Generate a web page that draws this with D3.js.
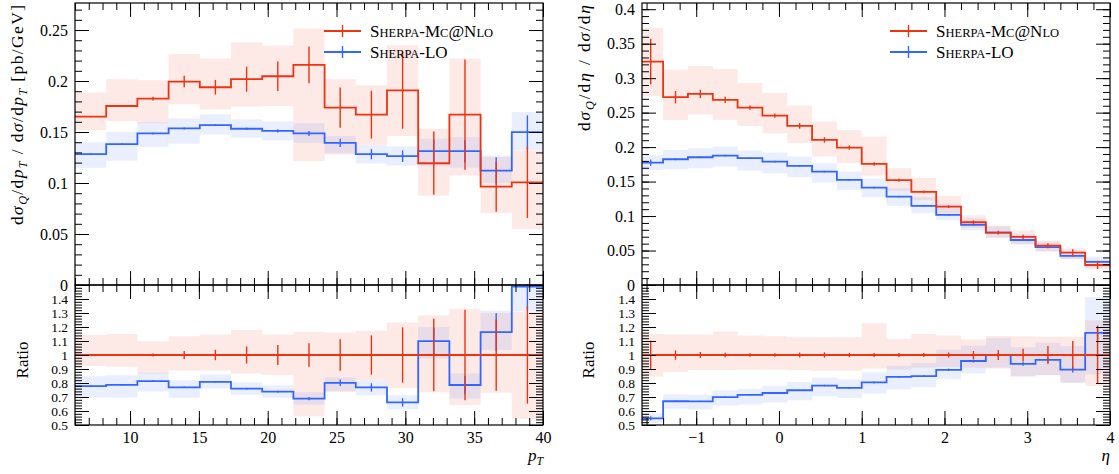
<!DOCTYPE html>
<html>
<head>
<meta charset="utf-8">
<script src="https://cdn.jsdelivr.net/npm/d3@7"></script>
<style>
  body { margin: 0; background: #fff; }
  svg { display: block; }
  text { font-family: "Liberation Serif", serif; }
</style>
</head>
<body>
<svg width="1119" height="474"></svg>
<script>
// ---- pT panel data (bins of 34/15 GeV from 6 to 40) ----
var ptEdges = [6, 8.267, 10.533, 12.8, 15.067, 17.333, 19.6, 21.867, 24.133, 26.4, 28.667, 30.933, 33.2, 35.467, 37.733, 40];
var ptNlo = [0.165, 0.1755, 0.1827, 0.1995, 0.1939, 0.2018, 0.2047, 0.2159, 0.1739, 0.167, 0.1909, 0.1194, 0.167, 0.0965, 0.1007];
var ptNloErr = [0.0005, 0.001, 0.0018, 0.0057, 0.0072, 0.0123, 0.0145, 0.018, 0.0197, 0.0234, 0.0377, 0.031, 0.054, 0.0246, 0.035];
var ptNloHi = [0.1887, 0.2018, 0.2008, 0.2264, 0.2221, 0.2379, 0.2346, 0.2516, 0.2018, 0.1959, 0.2352, 0.1532, 0.2221, 0.1255, 0.1319];
var ptNloLo = [0.1519, 0.1607, 0.1585, 0.1772, 0.1722, 0.1749, 0.1755, 0.1214, 0.128, 0.1371, 0.146, 0.0876, 0.1073, 0.0705, 0.0548];
var ptLo = [0.1283, 0.1381, 0.1486, 0.1535, 0.1568, 0.1532, 0.1511, 0.1486, 0.1394, 0.1283, 0.1263, 0.1312, 0.1312, 0.1122, 0.1499];
var ptLoErr = [0.0008, 0.0008, 0.001, 0.001, 0.001, 0.0012, 0.0015, 0.0025, 0.004, 0.005, 0.0057, 0.0115, 0.011, 0.013, 0.0164];
var ptLoHi = [0.14, 0.15, 0.1595, 0.1634, 0.1673, 0.1624, 0.1604, 0.1586, 0.146, 0.137, 0.136, 0.1434, 0.145, 0.127, 0.1696];
var ptLoLo = [0.1148, 0.122, 0.135, 0.1385, 0.1476, 0.1444, 0.142, 0.1395, 0.129, 0.119, 0.117, 0.1165, 0.115, 0.1, 0.1322];

// ---- eta panel data (bins of 0.3 from -1.7 to 4) ----
var etaEdges = [-1.7, -1.4, -1.1, -0.8, -0.5, -0.2, 0.1, 0.4, 0.7, 1.0, 1.3, 1.6, 1.9, 2.2, 2.5, 2.8, 3.1, 3.4, 3.7, 4.0];
var etaNlo = [0.324, 0.2724, 0.2772, 0.2685, 0.2573, 0.2457, 0.2308, 0.2104, 0.1993, 0.1756, 0.152, 0.135, 0.1136, 0.091, 0.0759, 0.0697, 0.057, 0.047, 0.029];
var etaNloErr = [0.033, 0.009, 0.006, 0.0045, 0.003, 0.003, 0.004, 0.004, 0.003, 0.0025, 0.0022, 0.002, 0.002, 0.0026, 0.0027, 0.0031, 0.0037, 0.0047, 0.0058];
var etaNloHi = [0.3726, 0.3122, 0.3177, 0.3133, 0.2931, 0.2786, 0.2601, 0.2371, 0.2246, 0.2153, 0.1695, 0.1553, 0.1294, 0.1011, 0.0862, 0.0790, 0.0644, 0.0531, 0.0362];
var etaNloLo = [0.2738, 0.2392, 0.2473, 0.2395, 0.2305, 0.2201, 0.2059, 0.1866, 0.1768, 0.1586, 0.1362, 0.1229, 0.1039, 0.0828, 0.0685, 0.0593, 0.0488, 0.0378, 0.0226];
var etaLo = [0.1775, 0.1824, 0.1853, 0.1877, 0.1839, 0.179, 0.1727, 0.1644, 0.1524, 0.1412, 0.1282, 0.1147, 0.1016, 0.0871, 0.0759, 0.0653, 0.0550, 0.0421, 0.0336];
var etaLoErr = [0.0045, 0.0015, 0.0012, 0.0012, 0.0012, 0.0012, 0.0012, 0.0012, 0.0012, 0.0012, 0.001, 0.001, 0.001, 0.001, 0.001, 0.001, 0.001, 0.001, 0.0015];
var etaLoHi = [0.1887, 0.1959, 0.1984, 0.2007, 0.1949, 0.192, 0.1862, 0.1766, 0.1644, 0.1538, 0.1403, 0.1273, 0.118, 0.097, 0.085, 0.0736, 0.062, 0.05, 0.041];
var etaLoLo = [0.1669, 0.1679, 0.1694, 0.1717, 0.1659, 0.1621, 0.1563, 0.1485, 0.1379, 0.1273, 0.1147, 0.1041, 0.094, 0.079, 0.069, 0.0589, 0.0488, 0.0376, 0.025];

// ---- tick values ----
var ptMainTicks = [0, 0.05, 0.1, 0.15, 0.2, 0.25];
var etaMainTicks = [0, 0.05, 0.1, 0.15, 0.2, 0.25, 0.3, 0.35, 0.4];
var ratioTicks = [0.5, 0.6, 0.7, 0.8, 0.9, 1, 1.1, 1.2, 1.3, 1.4];
var ptXTicks = [10, 15, 20, 25, 30, 35, 40];
var etaXTicks = [-1, 0, 1, 2, 3, 4];

var RED = '#ee3311', BLUE = '#3366ff';
var TOP = 3, MID = 285, BOT = 425;
var svg = d3.select('svg');
var defs = svg.append('defs');

function styleAxis(size) {
  return function (g) {
    g.select('.domain').remove();
    g.attr('font-family', '"Liberation Serif", serif').attr('font-size', size || 16);
    g.selectAll('line').attr('stroke', '#000').attr('stroke-width', 1);
    g.selectAll('text').attr('fill', '#000');
  };
}

// text with simple markup: [string, kind] kind: '' normal, 'i' italic, 's' italic subscript
function richText(t, parts, size) {
  var shifted = false;
  parts.forEach(function (p) {
    var ts = t.append('tspan').text(p[0]);
    if (p[1] === 'i') ts.attr('font-style', 'italic');
    if (p[1] === 's') {
      ts.attr('font-style', 'italic').attr('font-size', size * 0.7).attr('dy', 4);
      shifted = true;
    } else if (shifted) {
      ts.attr('dy', -4);
      shifted = false;
    }
  });
}

function smallCaps(t, parts, big, small) {
  parts.forEach(function (p) {
    t.append('tspan').text(p[0]).attr('font-size', p[1] ? small : big);
  });
}

function drawPanel(p) {
  var x = d3.scaleLinear().domain(p.xDomain).range([p.x0, p.x1]);
  var y = d3.scaleLinear().domain([0, p.yMax]).range([MID, TOP]);
  var yr = d3.scaleLinear().domain([0.5, 1.5]).range([BOT, MID]);
  var W = p.x1 - p.x0;

  defs.append('clipPath').attr('id', p.id + 'm')
    .append('rect').attr('x', p.x0).attr('y', TOP).attr('width', W).attr('height', MID - TOP);
  defs.append('clipPath').attr('id', p.id + 'r')
    .append('rect').attr('x', p.x0).attr('y', MID).attr('width', W).attr('height', BOT - MID);

  var bins = p.nlo.map(function (v, i) {
    return { i: i, lo: p.edges[i], hi: p.edges[i + 1], mid: (p.edges[i] + p.edges[i + 1]) / 2 };
  });

  var ref = p.nlo;
  var mainSeries = [
    { c: RED, v: p.nlo, e: p.nloErr, lo: p.nloLo, hi: p.nloHi },
    { c: BLUE, v: p.lo, e: p.loErr, lo: p.loLo, hi: p.loHi }
  ];
  var ratioSeries = mainSeries.map(function (s) {
    return {
      c: s.c,
      v: s.v.map(function (d, i) { return d / ref[i]; }),
      e: s.e.map(function (d, i) { return d / ref[i]; }),
      lo: s.lo.map(function (d, i) { return d / ref[i]; }),
      hi: s.hi.map(function (d, i) { return d / ref[i]; })
    };
  });

  function drawData(series, ys, clip) {
    var g = svg.append('g').attr('clip-path', 'url(#' + clip + ')');
    series.forEach(function (s) {
      g.append('g').selectAll('rect').data(bins).join('rect')
        .attr('x', function (d) { return x(d.lo); })
        .attr('width', function (d) { return x(d.hi) - x(d.lo); })
        .attr('y', function (d) { return ys(s.hi[d.i]); })
        .attr('height', function (d) { return ys(s.lo[d.i]) - ys(s.hi[d.i]); })
        .attr('fill', s.c).attr('fill-opacity', 0.1);
    });
    var line = d3.line().x(function (d) { return x(d[0]); }).y(function (d) { return ys(d[1]); });
    series.slice().reverse().forEach(function (s) {
      var pts = [];
      bins.forEach(function (d) { pts.push([d.lo, s.v[d.i]], [d.hi, s.v[d.i]]); });
      g.append('path').attr('d', line(pts)).attr('fill', 'none')
        .attr('stroke', s.c).attr('stroke-width', 1.8);
      g.append('g').selectAll('line').data(bins).join('line')
        .attr('x1', function (d) { return x(d.mid); })
        .attr('x2', function (d) { return x(d.mid); })
        .attr('y1', function (d) { return ys(s.v[d.i] - s.e[d.i]); })
        .attr('y2', function (d) { return ys(s.v[d.i] + s.e[d.i]); })
        .attr('stroke', s.c).attr('stroke-width', 1.4);
    });
  }

  drawData(mainSeries, y, p.id + 'm');
  drawData(ratioSeries, yr, p.id + 'r');

  // frames
  [[TOP, MID], [MID, BOT]].forEach(function (r) {
    svg.append('rect').attr('x', p.x0).attr('y', r[0]).attr('width', W).attr('height', r[1] - r[0])
      .attr('fill', 'none').attr('stroke', '#000').attr('stroke-width', 1.2);
  });

  var fmt = d3.format('~g');
  // y axes main
  svg.append('g').attr('transform', 'translate(' + p.x0 + ',0)')
    .call(d3.axisLeft(y).tickValues(p.yTicks).tickSize(-14).tickPadding(7).tickFormat(fmt)).call(styleAxis(16));
  svg.append('g').attr('transform', 'translate(' + p.x0 + ',0)')
    .call(d3.axisLeft(y).tickValues(p.yMinor).tickSize(-7).tickFormat('')).call(styleAxis());
  svg.append('g').attr('transform', 'translate(' + p.x1 + ',0)')
    .call(d3.axisRight(y).tickValues(p.yTicks).tickSize(-14).tickFormat('')).call(styleAxis());
  svg.append('g').attr('transform', 'translate(' + p.x1 + ',0)')
    .call(d3.axisRight(y).tickValues(p.yMinor).tickSize(-7).tickFormat('')).call(styleAxis());
  // y axes ratio
  var rMinor = d3.range(0.5, 1.5, 0.02);
  svg.append('g').attr('transform', 'translate(' + p.x0 + ',0)')
    .call(d3.axisLeft(yr).tickValues(ratioTicks).tickSize(-14).tickPadding(7).tickFormat(fmt)).call(styleAxis(13.5));
  svg.append('g').attr('transform', 'translate(' + p.x0 + ',0)')
    .call(d3.axisLeft(yr).tickValues(rMinor).tickSize(-7).tickFormat('')).call(styleAxis());
  svg.append('g').attr('transform', 'translate(' + p.x1 + ',0)')
    .call(d3.axisRight(yr).tickValues(ratioTicks).tickSize(-14).tickFormat('')).call(styleAxis());
  svg.append('g').attr('transform', 'translate(' + p.x1 + ',0)')
    .call(d3.axisRight(yr).tickValues(rMinor).tickSize(-7).tickFormat('')).call(styleAxis());

  // x axes: top of main, bottom of main, top of ratio, bottom of ratio
  [[TOP, 'top'], [MID, 'bottom'], [MID, 'top'], [BOT, 'bottom']].forEach(function (a, k) {
    var mk = a[1] === 'top' ? d3.axisTop : d3.axisBottom;
    var labelled = k === 3;
    svg.append('g').attr('transform', 'translate(0,' + a[0] + ')')
      .call(mk(x).tickValues(p.xTicks).tickSize(-14).tickPadding(7).tickFormat(labelled ? fmt : ''))
      .call(styleAxis(16));
    svg.append('g').attr('transform', 'translate(0,' + a[0] + ')')
      .call(mk(x).tickValues(p.xMinor).tickSize(-7).tickFormat(''))
      .call(styleAxis());
  });

  // axis titles
  var yt = svg.append('text').attr('text-anchor', 'end').attr('font-size', 17.5)
    .attr('textLength', p.yTitleLen).attr('lengthAdjust', 'spacing')
    .attr('transform', 'translate(' + p.yTitleX + ',' + (TOP + 2) + ') rotate(-90)');
  richText(yt, p.yTitle, 17.5);
  svg.append('text').attr('text-anchor', 'middle').attr('font-size', 17)
    .attr('transform', 'translate(' + p.ratioX + ',360) rotate(-90)').text('Ratio');
  var xt = svg.append('text').attr('text-anchor', 'end').attr('font-size', 17)
    .attr('x', p.x1).attr('y', 461);
  richText(xt, p.xTitle, 17);

  // legend
  var entries = [
    { c: RED, parts: [['S', 0], ['HERPA', 1], ['-M', 0], ['C', 1], ['@N', 0], ['LO', 1]] },
    { c: BLUE, parts: [['S', 0], ['HERPA', 1], ['-LO', 0]] }
  ];
  entries.forEach(function (e, k) {
    var ly = 31 + k * 21;
    var g = svg.append('g');
    g.append('line').attr('x1', p.legX).attr('x2', p.legX + 37).attr('y1', ly).attr('y2', ly)
      .attr('stroke', e.c).attr('stroke-width', 1.8);
    g.append('line').attr('x1', p.legX + 18.5).attr('x2', p.legX + 18.5).attr('y1', ly - 6).attr('y2', ly + 6)
      .attr('stroke', e.c).attr('stroke-width', 1.4);
    var t = g.append('text').attr('x', p.legX + 46).attr('y', ly + 6);
    smallCaps(t, e.parts, 17, 12.5);
  });
}

drawPanel({
  id: 'pt', x0: 75, x1: 543, xDomain: [6, 40], yMax: 0.2765,
  edges: ptEdges, nlo: ptNlo, nloErr: ptNloErr, nloLo: ptNloLo, nloHi: ptNloHi,
  lo: ptLo, loErr: ptLoErr, loLo: ptLoLo, loHi: ptLoHi,
  yTicks: ptMainTicks, yMinor: d3.range(0, 0.2765, 0.01),
  xTicks: ptXTicks, xMinor: d3.range(6, 40.5, 1),
  yTitleX: 23, yTitleLen: 220, ratioX: 28, legX: 324,
  yTitle: [['d', ''], ['σ', 'i'], ['Q', 's'], ['/d', ''], ['p', 'i'], ['T', 's'], ['  /  d', ''], ['σ', 'i'], ['/d', ''], ['p', 'i'], ['T', 's'], [' [pb/GeV]', '']],
  xTitle: [['p', 'i'], ['T', 's']]
});

drawPanel({
  id: 'eta', x0: 642, x1: 1110, xDomain: [-1.655, 4], yMax: 0.409,
  edges: etaEdges, nlo: etaNlo, nloErr: etaNloErr, nloLo: etaNloLo, nloHi: etaNloHi,
  lo: etaLo, loErr: etaLoErr, loLo: etaLoLo, loHi: etaLoHi,
  yTicks: etaMainTicks, yMinor: d3.range(0, 0.409, 0.01),
  xTicks: etaXTicks, xMinor: d3.range(-1.6, 4.01, 0.2),
  yTitleX: 590, yTitleLen: 126, ratioX: 594, legX: 890,
  yTitle: [['d', ''], ['σ', 'i'], ['Q', 's'], ['/d', ''], ['η', 'i'], ['  /  d', ''], ['σ', 'i'], ['/d', ''], ['η', 'i']],
  xTitle: [['η', 'i']]
});
</script>
</body>
</html>
